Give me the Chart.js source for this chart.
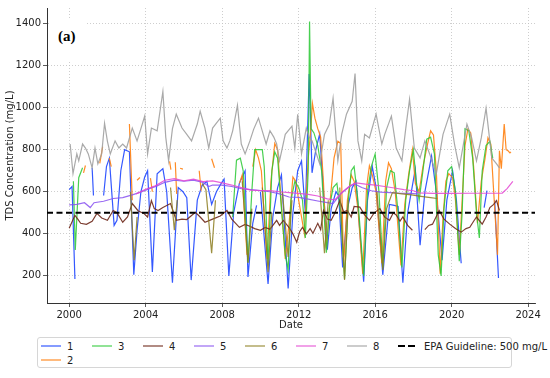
<!DOCTYPE html>
<html>
<head>
<meta charset="utf-8">
<script src="https://cdn.jsdelivr.net/npm/chart.js@4.4.1/dist/chart.umd.min.js"></script>
<style>
  body { margin: 0; background: #fff; font-family: "DejaVu Sans", sans-serif; }
  #wrap { position: relative; width: 550px; height: 378px; }
  #panel { position: absolute; left: 49px; top: 18px; width: 38px; height: 42px; background: #fff;
           font: bold 15px "Liberation Serif", serif; color: #000; }
  #panel span { position: absolute; left: 9px; top: 11px; line-height: 15px; }
  #legend { position: absolute; left: 37px; top: 337px; width: 475px; height: 31px; box-sizing: border-box;
            border: 1px solid #d6d6d6; border-radius: 3px; padding: 1px 0 0 3px;
            display: grid; grid-template-columns: repeat(7, 51px) auto; grid-template-rows: 14px 14px;
            font-size: 10px; color: #222; }
  .item { display: flex; align-items: center; white-space: nowrap; }
  .swatch { width: 20px; height: 1.5px; margin-right: 6px; }
</style>
</head>
<body>
<div id="wrap">
  <canvas id="myChart" width="550" height="335"></canvas>
  <div id="panel"><span>(a)</span></div>
  <div id="legend"></div>
</div>
<script>
const xTicks = [2000, 2004, 2008, 2012, 2016, 2020, 2024];
const yTicks = [200, 400, 600, 800, 1000, 1200, 1400];
const xMin = 1998.84, xMax = 2024.36;
const yMin = 71, yMax = 1474;
const epaLevel = 500;

const seriesNames = ['1', '2', '3', '4', '5', '6', '7', '8'];
const seriesColors = ['rgba(30,70,255,0.9)', 'rgba(255,127,14,0.9)', 'rgba(40,200,50,0.85)', 'rgba(110,40,25,0.9)',
                      'rgba(135,80,240,0.85)', 'rgba(140,125,30,0.85)', 'rgba(228,70,210,0.85)', 'rgba(160,160,160,0.9)'];

// [decimal year, TDS mg/L], null = gap
const s1 = [[2000.0,610],[2000.15,625],[2000.3,185],null,
  [2001.2,714],[2001.27,582],null,
  [2001.8,582],[2001.95,720],[2002.1,760],[2002.35,440],[2002.5,464],[2002.7,700],[2002.9,800],[2003.15,790],
  [2003.38,205],[2003.55,417],[2003.75,600],[2003.95,670],[2004.1,700],[2004.35,219],[2004.6,686],[2004.9,710],
  [2005.1,600],[2005.4,167],[2005.7,620],[2005.95,600],[2006.15,572],[2006.38,180],[2006.7,560],[2006.95,630],
  [2007.2,650],[2007.45,540],[2007.7,600],[2007.95,640],[2008.1,660],[2008.35,200],[2008.6,500],[2008.9,640],
  [2009.2,700],[2009.35,195],[2009.6,450],[2009.8,535],null,
  [2010.0,600],[2010.4,162],[2010.65,480],[2010.9,620],[2011.1,680],[2011.45,140],[2011.7,500],[2011.95,700],
  [2012.15,747],[2012.35,500],[2012.55,1160],[2012.7,690],[2012.9,800],[2013.1,875],[2013.3,600],[2013.5,325],
  [2013.7,520],[2013.95,600],[2014.1,580],[2014.3,240],[2014.55,520],[2014.8,620],[2015.0,650],[2015.4,172],
  [2015.6,560],[2015.85,720],[2016.05,620],[2016.4,205],[2016.65,450],[2016.75,540],[2017.0,535],[2017.2,530],
  [2017.45,167],[2017.7,500],[2018.1,708],[2018.35,346],[2018.6,600],[2018.95,770],[2019.2,600],[2019.5,275],
  [2019.75,560],[2020.05,700],[2020.25,560],[2020.5,260],null,
  [2021.7,525],[2021.85,605],null,
  [2022.25,560],[2022.45,190]];

const s2 = [[2000.75,690],[2000.85,725],null,[2001.6,735],[2001.75,815],null,[2002.1,760],[2002.2,720],null,
  [2003.15,922],[2003.3,560],null,[2003.55,655],[2003.7,668],null,[2004.25,665],[2004.35,600],null,
  [2005.25,745],[2005.32,705],null,[2005.55,740],[2005.62,590],null,[2005.8,712],[2005.95,708],null,
  [2006.8,700],[2006.9,605],null,[2007.45,757],[2007.6,714],null,
  [2008.9,640],[2009.05,680],[2009.3,300],null,
  [2009.6,720],[2009.75,800],[2009.9,760],[2010.05,700],[2010.35,280],[2010.55,650],[2010.75,830],[2010.9,800],
  [2011.05,600],[2011.3,280],[2011.5,450],[2011.7,670],[2011.85,650],[2012.0,560],[2012.3,400],[2012.5,760],
  [2012.62,880],[2012.72,1020],[2012.85,950],[2013.0,900],[2013.15,860],[2013.3,640],[2013.45,330],[2013.65,560],
  [2013.85,760],[2014.05,840],[2014.2,830],[2014.35,250],[2014.55,560],[2014.75,680],[2014.9,650],[2015.1,520],
  [2015.35,210],[2015.55,620],[2015.7,724],[2015.85,680],[2016.05,600],[2016.35,260],[2016.55,650],[2016.7,738],
  [2016.85,710],[2017.05,600],[2017.35,250],[2017.55,540],[2017.75,680],[2017.95,800],[2018.1,640],[2018.3,600],
  [2018.5,720],[2018.75,830],[2018.9,890],[2019.05,870],[2019.2,700],[2019.4,210],[2019.55,480],[2019.7,650],
  [2019.85,686],[2020.05,667],[2020.2,560],[2020.4,300],[2020.55,560],[2020.7,820],[2020.85,898],[2021.0,880],
  [2021.15,720],[2021.35,450],[2021.55,650],[2021.75,760],[2021.9,856],[2022.05,827],[2022.2,600],[2022.4,300],
  [2022.5,795],[2022.6,710],[2022.75,922],[2022.85,800],[2022.95,795],[2023.05,785],[2023.1,790]];

const s3 = [[2000.22,650],[2000.32,323],[2000.5,667],[2000.7,714],null,
  [2008.55,480],[2008.75,750],[2008.95,760],[2009.1,700],[2009.35,265],[2009.55,600],[2009.7,800],[2010.1,800],
  [2010.2,720],[2010.4,250],[2010.6,700],[2010.75,790],[2010.9,760],[2011.1,520],[2011.3,300],[2011.45,230],
  [2011.6,560],[2011.8,650],[2012.0,620],[2012.2,560],[2012.35,380],[2012.5,700],[2012.57,1410],[2012.65,900],
  [2012.8,880],[2013.0,820],[2013.2,700],[2013.45,310],[2013.6,520],[2013.8,620],[2014.0,640],[2014.2,500],
  [2014.4,185],[2014.6,560],[2014.75,700],[2014.9,720],[2015.1,560],[2015.4,200],[2015.6,600],[2015.8,720],
  [2016.0,780],[2016.2,600],[2016.4,240],[2016.6,620],[2016.8,700],[2017.0,690],[2017.2,500],[2017.4,240],
  [2017.6,560],[2017.8,700],[2018.0,800],[2018.15,650],[2018.3,560],[2018.5,700],[2018.7,850],[2018.9,860],
  [2019.1,780],[2019.3,300],[2019.45,200],[2019.6,520],[2019.8,700],[2020.0,720],[2020.2,600],[2020.4,270],
  [2020.55,500],[2020.7,900],[2020.9,890],[2021.1,760],[2021.3,500],[2021.45,380],[2021.6,700],[2021.8,820],
  [2022.0,840],[2022.15,760]];

const s4 = [[2000.0,426],[2000.3,488],[2000.45,470],[2000.6,450],[2000.9,445],[2001.2,460],[2001.45,497],
  [2001.7,475],[2002.0,464],[2002.3,511],[2002.5,500],[2002.8,455],[2003.05,480],[2003.3,544],[2003.6,510],
  [2003.9,497],[2004.1,480],[2004.3,558],[2004.45,520],[2004.65,511],[2004.9,525],[2005.3,544],[2005.6,464],
  [2005.9,470],[2006.15,468],[2006.6,502],[2006.85,480],[2007.1,455],[2007.5,470],[2007.9,485],[2008.25,511],
  [2008.5,470],[2008.9,431],[2009.2,445],[2009.45,436],[2009.7,425],[2010.0,417],[2010.25,430],[2010.5,422],
  [2010.85,464],[2011.0,440],[2011.2,464],[2011.5,430],[2011.7,400],[2011.9,360],[2012.05,410],[2012.2,431],
  [2012.4,400],[2012.6,425],[2012.75,403],[2013.0,450],[2013.15,420],[2013.3,511],[2013.5,470],[2013.7,464],
  [2013.9,500],[2014.15,558],[2014.35,505],[2014.55,511],[2014.75,480],[2014.9,530],[2015.2,527],[2015.45,490],
  [2015.7,464],[2015.95,500],[2016.25,520],[2016.5,480],[2016.75,464],[2016.95,500],[2017.1,490],[2017.3,460],
  [2017.45,480],[2017.7,440],[2017.95,417],null,
  [2018.6,420],[2018.8,440],[2019.0,446],[2019.35,511],[2019.6,470],[2019.9,446],[2020.2,425],[2020.5,408],
  [2020.75,425],[2020.95,431],[2021.15,460],[2021.3,480],[2021.6,446],[2021.8,480],[2022.0,525],[2022.2,540],
  [2022.35,558],[2022.5,511]];

const s5 = [[2000.0,538],[2000.4,540],[2000.8,548],[2001.1,525],[2001.3,548],[2001.8,555],[2002.3,568],
  [2002.8,572],[2003.3,585],[2003.7,597],[2004.2,615],[2004.6,628],[2005.0,645],[2005.5,655],[2006.0,650],
  [2006.5,655],[2007.0,645],[2007.3,625],[2007.5,632],[2008.0,632],[2008.5,625],[2009.0,615],[2009.5,610],
  [2010.0,605],[2010.5,600],[2011.0,590],[2011.5,575],[2012.0,573],[2012.5,565],[2013.0,556],[2013.5,548],
  [2013.8,544],[2014.2,590],[2014.6,620],[2014.9,638],[2015.3,620],[2015.8,605],[2016.3,598],[2016.8,596],
  [2017.3,593],[2017.8,592],[2018.2,590]];

const s6 = [[2003.2,600],[2003.4,275],[2003.55,480],null,[2005.3,620],[2005.5,417],[2005.65,560],null,
  [2006.95,640],[2007.15,610],[2007.45,308],[2007.65,560],null,[2009.05,650],[2009.35,261],[2009.55,520],null,
  [2010.1,620],[2010.4,218],[2010.6,500],null,[2011.15,600],[2011.45,290],[2011.65,560],null,
  [2013.1,620],[2013.35,308],[2013.55,560],null,[2014.15,620],[2014.4,180],[2014.6,560],null,
  [2016.1,600],[2016.4,228],[2016.6,520],[2016.9,596],[2017.4,590],[2017.9,585],[2018.4,578],[2018.9,572],
  [2019.25,568]];

const s7 = [[2003.5,590],[2004.0,612],[2004.5,628],[2005.0,655],[2005.5,662],[2006.0,652],[2006.5,660],
  [2007.0,648],[2007.5,652],[2008.0,642],[2008.5,632],[2009.0,620],[2009.5,608],[2010.0,606],[2010.5,605],
  [2011.0,600],[2011.5,596],[2012.0,592],[2012.5,588],[2013.0,580],[2013.5,566],[2013.9,562],[2014.3,600],
  [2014.7,630],[2015.0,642],[2015.5,636],[2016.0,632],[2016.5,625],[2017.0,618],[2017.5,610],[2018.0,605],
  [2018.3,595],[2019.0,592],[2020.0,592],[2021.0,593],[2022.0,593],[2022.65,594],[2022.9,615],[2023.2,650]];

const s8 = [[2000.05,827],[2000.2,686],[2000.4,780],[2000.5,747],[2000.7,827],[2000.85,808],[2001.0,780],
  [2001.2,714],[2001.35,808],[2001.5,733],[2001.7,780],[2001.85,926],[2002.0,840],[2002.15,780],[2002.4,842],
  [2002.6,808],[2002.8,827],[2003.0,808],[2003.3,903],[2003.55,842],[2003.75,900],[2003.95,960],[2004.1,780],
  [2004.3,903],[2004.6,890],[2004.9,1077],[2005.05,860],[2005.2,747],[2005.4,900],[2005.6,969],[2005.9,903],
  [2006.15,873],[2006.4,842],[2006.7,922],[2006.85,983],[2007.1,903],[2007.3,808],[2007.5,903],[2007.7,926],
  [2007.9,950],[2008.05,842],[2008.25,808],[2008.4,842],[2008.55,890],[2008.8,1011],[2009.0,827],[2009.2,780],
  [2009.45,842],[2009.65,898],[2009.9,950],[2010.15,873],[2010.3,827],[2010.5,890],[2010.7,860],[2010.85,827],
  [2011.0,747],[2011.3,873],[2011.65,912],[2011.8,808],[2011.95,969],[2012.15,780],[2012.4,903],[2012.55,860],
  [2012.7,842],[2013.1,733],[2013.35,873],[2013.6,920],[2013.8,1045],[2014.05,747],[2014.25,873],[2014.5,969],
  [2014.8,1030],[2014.95,1162],[2015.1,842],[2015.3,747],[2015.45,873],[2015.7,856],[2016.05,969],[2016.35,827],
  [2016.5,873],[2016.85,960],[2017.1,808],[2017.4,747],[2017.6,900],[2017.8,1040],[2018.05,808],[2018.35,761],
  [2018.6,842],[2018.85,780],[2019.2,686],[2019.55,873],[2019.9,969],[2020.15,827],[2020.4,714],[2020.8,922],
  [2021.05,856],[2021.3,747],[2021.55,856],[2021.8,998],[2022.1,761],[2022.35,733],[2022.5,714]];

const seriesData = [s1, s2, s3, s4, s5, s6, s7, s8];

function toPoints(arr) {
  const out = [];
  let lastX = xMin;
  arr.forEach(function (p) {
    if (p === null) { out.push({ x: lastX + 0.001, y: null }); }
    else { out.push({ x: p[0], y: p[1] }); lastX = p[0]; }
  });
  return out;
}

Chart.defaults.font.family = '"DejaVu Sans", sans-serif';
Chart.defaults.font.size = 10;
Chart.defaults.color = '#222';

const datasets = seriesData.map(function (s, i) {
  return {
    label: seriesNames[i],
    data: toPoints(s),
    borderColor: seriesColors[i],
    borderWidth: 1.2,
    pointRadius: 0,
    tension: 0,
    spanGaps: false,
    order: 10 - i
  };
});
datasets.push({
  label: 'EPA Guideline: 500 mg/L',
  data: [{ x: xMin, y: epaLevel }, { x: xMax, y: epaLevel }],
  borderColor: '#000',
  borderWidth: 2,
  borderDash: [6, 3.5],
  pointRadius: 0,
  order: 0
});

const gridOpts = { color: '#c2c2c2', lineWidth: 0.8, drawTicks: true, tickLength: 4, tickColor: '#333', tickWidth: 0.8 };
const borderOpts = { display: true, color: '#333', width: 1, dash: [1, 2] };

const chart = new Chart(document.getElementById('myChart'), {
  type: 'line',
  data: { datasets: datasets },
  options: {
    responsive: false,
    animation: false,
    layout: { padding: { left: 0, right: 15, top: 6, bottom: 0 } },
    plugins: { legend: { display: false }, tooltip: { enabled: false } },
    scales: {
      x: {
        type: 'linear', min: xMin, max: xMax,
        afterBuildTicks: function (s) { s.ticks = xTicks.map(function (v) { return { value: v }; }); },
        afterFit: function (s) { s.height = 32; },
        ticks: { padding: 2, maxRotation: 0, callback: function (v) { return String(v); } },
        grid: gridOpts, border: borderOpts,
        title: { display: true, text: 'Date', padding: { top: 0, bottom: 4 } }
      },
      y: {
        min: yMin, max: yMax,
        afterBuildTicks: function (s) { s.ticks = yTicks.map(function (v) { return { value: v }; }); },
        afterFit: function (s) { s.width = 47; },
        ticks: { padding: 2, callback: function (v) { return String(v); } },
        grid: gridOpts, border: borderOpts,
        title: { display: true, text: 'TDS Concentration (mg/L)', padding: { top: 4, bottom: 0 } }
      }
    }
  }
});

// legend laid out like the original: 8 columns, item "2" wraps under "1"
const legendEl = document.getElementById('legend');
chart.data.datasets.forEach(function (ds, i) {
  const item = document.createElement('div');
  item.className = 'item';
  item.style.gridColumn = String(i < 2 ? 1 : i);
  item.style.gridRow = String(i === 1 ? 2 : 1);
  const sw = document.createElement('span');
  sw.className = 'swatch';
  if (ds.borderDash) {
    sw.style.height = '2px';
    sw.style.width = '18px';
    sw.style.marginRight = '8px';
    sw.style.background = 'repeating-linear-gradient(90deg, #000 0 7px, transparent 7px 10px)';
  } else {
    sw.style.background = ds.borderColor;
    sw.style.opacity = '0.6';
  }
  const txt = document.createElement('span');
  txt.textContent = ds.label;
  item.appendChild(sw);
  item.appendChild(txt);
  legendEl.appendChild(item);
});
</script>
</body>
</html>
